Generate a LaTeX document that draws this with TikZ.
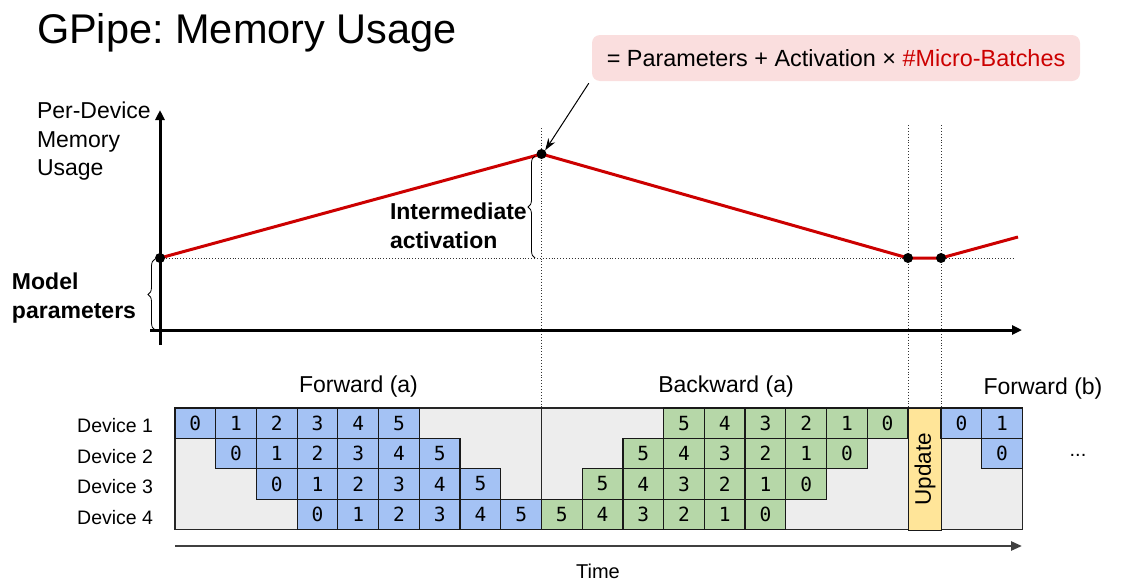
\documentclass[tikz,border=0pt]{standalone}
\usepackage{fontspec}
\setmainfont{Liberation Sans}
\newfontfamily\cellfont{DejaVu Sans Mono}
\usetikzlibrary{arrows.meta,decorations.pathreplacing}
\definecolor{cellblue}{RGB}{164,194,244}
\definecolor{cellgreen}{RGB}{182,215,168}
\definecolor{updyellow}{RGB}{255,229,153}
\definecolor{bggrey}{RGB}{237,237,237}
\definecolor{callpink}{RGB}{250,222,222}
\definecolor{memred}{RGB}{204,0,0}
\definecolor{timegrey}{RGB}{64,64,64}
\frenchspacing
\tikzset{
  txt/.style={inner sep=0pt, outer sep=0pt, font=\fontsize{23}{28}\selectfont},
  btxt/.style={txt, font=\fontsize{23}{28}\selectfont\bfseries},
  devtxt/.style={inner sep=0pt, anchor=base west, font=\fontsize{19.5}{24}\selectfont},
  cellbox/.style={draw=black!90, line width=1.2pt, anchor=north west, minimum width=40.72pt, minimum height=30.4pt, inner sep=0pt, outer sep=0pt, font=\cellfont\fontsize{19.5}{22}\selectfont},
  fcell/.style={cellbox, fill=cellblue},
  bcell/.style={cellbox, fill=cellgreen},
  guide/.style={dotted, line width=0.9pt, black!80},
  dot/.style={circle, fill=black, inner sep=0pt, minimum size=10pt},
}
\begin{document}
\begin{tikzpicture}[x=1pt,y=-1pt]
\useasboundingbox (0,0) rectangle (1130,584);
% title
\node[txt, anchor=base west, font=\fontsize{41.5}{48}\selectfont] (title) at (37,43) {GPipe: Memory Usage};
% callout
\node[fill=callpink, rounded corners=8pt, minimum width=488pt, minimum height=46pt, inner sep=0pt] (call) at (836,58)
  {\fontsize{23.4}{28}\selectfont = Parameters + Activation × \textcolor{memred}{\#Micro-Batches}};
% axis labels
\node[txt, anchor=base west] (yl1) at (37,118) {Per-Device};
\node[txt, anchor=base west] (yl2) at (37,147) {Memory};
\node[txt, anchor=base west] (yl3) at (37,175) {Usage};
\node[btxt, anchor=base west] (mp1) at (12,289) {Model};
\node[btxt, anchor=base west] (mp2) at (12,318) {parameters};
\node[btxt, anchor=base west] (ia1) at (390,219) {Intermediate};
\node[btxt, anchor=base west] (ia2) at (390,248) {activation};
% key points
\coordinate (p0) at (160,258);
\coordinate (p1) at (541.5,154);
\coordinate (p2) at (908,258);
\coordinate (p3) at (941,258);
\coordinate (p4) at (1018,237);
\coordinate (xa0) at (150,330);
\coordinate (xa1) at (1022,330);
\coordinate (ya0) at (160,345);
\coordinate (ya1) at (160,110);
% guides
\draw[guide] (p0) -- (1015,258);
\draw[guide] (541.5,128) -- (541.5,408);
\draw[guide] (908,125) -- (908,408);
\draw[guide] (941,125) -- (941,408);
% axes
\draw[line width=3pt, -{Triangle[length=10pt,width=9pt]}] (ya0) -- (ya1);
\draw[line width=3pt, -{Triangle[length=10pt,width=9pt]}] (xa0) -- (xa1);
% memory curve
\draw[memred, line width=3pt, line join=round] (p0) -- (p1) -- (p2) -- (p3) -- (p4);
\node[dot] (d0) at (p0) {};
\node[dot] (d1) at (p1) {};
\node[dot] (d2) at (p2) {};
\node[dot] (d3) at (p3) {};
% braces
\draw[decorate, decoration={brace, amplitude=7pt}, line width=0.8pt] (155,330) -- (155,259);
\draw[decorate, decoration={brace, amplitude=7pt}, line width=0.8pt] (535,258) -- (535,156);
% callout arrow
\draw[line width=1pt, -{Stealth[length=12pt,width=8pt]}] (call.south west) ++(-3,2) coordinate (ca) -- (d1.north east);
% phase labels
\node[txt, anchor=base] (fa) at (358.5,392) {Forward (a)};
\node[txt, anchor=base] (ba) at (726,392) {Backward (a)};
\node[txt, anchor=base] (fb) at (1043,394) {Forward (b)};
% grid background
\draw[fill=bggrey, draw=black!85, line width=1.2pt] (175,408) rectangle (1022.4,529.6);
\draw[black!85, line width=1.2pt] (541.5,408) -- (541.5,529.6);
% device labels
\node[devtxt] (dev1) at (77,432.8) {Device 1};
\node[devtxt] (dev2) at (77,463.2) {Device 2};
\node[devtxt] (dev3) at (77,493.6) {Device 3};
\node[devtxt] (dev4) at (77,524) {Device 4};
% cells
\foreach \r in {0,...,3}{
  \foreach \i in {0,...,5}{
    \pgfmathsetmacro\fx{175+(\r+\i)*40.72}
    \pgfmathsetmacro\bx{175+(12-\r+\i)*40.72}
    \pgfmathsetmacro\yy{408+\r*30.4}
    \pgfmathtruncatemacro\bl{5-\i}
    \node[fcell] (f-\r-\i) at (\fx,\yy) {\i};
    \node[bcell] (b-\r-\i) at (\bx,\yy) {\bl};
  }
}
% update
\node[draw=black!90, line width=1.2pt, fill=updyellow, anchor=north west, minimum width=33pt, minimum height=121.6pt, inner sep=0pt] (upd) at (908,408) {};
\node[rotate=90, font=\fontsize{22.5}{26}\selectfont, inner sep=0pt] (updt) at (upd.center) {Update};
% forward (b)
\node[fcell] (g-0-0) at (941,408) {0};
\node[fcell] (g-0-1) at (981.7,408) {1};
\node[fcell] (g-1-0) at (981.7,438.4) {0};
\node[font=\fontsize{20}{24}\selectfont, inner sep=0pt] (dots) at (1078,455) {...};
% time axis
\coordinate (t0) at (175,546);
\coordinate (t1) at (1022,546);
\draw[timegrey, line width=2.5pt, -{Triangle[length=11pt,width=9pt]}] (t0) -- (t1);
\node[anchor=base, font=\fontsize{20}{24}\selectfont, inner sep=0pt] (time) at (598,578) {Time};
\end{tikzpicture}
\end{document}
